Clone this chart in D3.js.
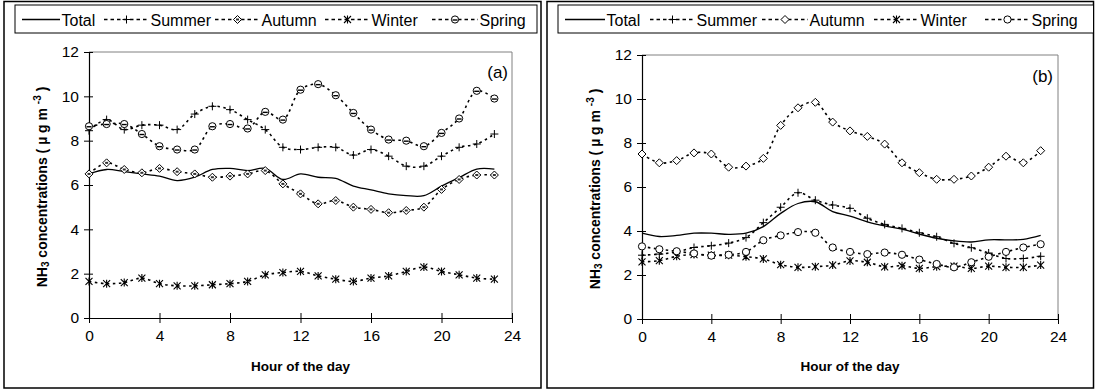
<!DOCTYPE html>
<html>
<head>
<meta charset="utf-8">
<script src="https://cdn.jsdelivr.net/npm/d3@7"></script>
<style>
  body { margin: 0; background: #fff; }
  svg { display: block; font-family: "Liberation Sans", Arial, sans-serif; }
</style>
</head>
<body>
<svg id="chart" width="1095" height="390"></svg>
<script>
const hours = [0, 1, 2, 3, 4, 5, 6, 7, 8, 9, 10, 11, 12, 13, 14, 15, 16, 17, 18, 19, 20, 21, 22, 23];
const seriesNames = ["Total", "Summer", "Autumn", "Winter", "Spring"];
const xTicks = [0, 4, 8, 12, 16, 20, 24];
const yTicks = [0, 2, 4, 6, 8, 10, 12];

// panel (a)
const totalA = [6.5, 6.7, 6.6, 6.5, 6.4, 6.2, 6.35, 6.7, 6.75, 6.65, 6.75, 6.25, 6.5, 6.35, 6.3, 5.95, 5.78, 5.6, 5.52, 5.52, 5.95, 6.33, 6.72, 6.72];
const summerA = [8.45, 8.95, 8.5, 8.7, 8.7, 8.5, 9.2, 9.55, 9.4, 8.95, 8.5, 7.7, 7.6, 7.7, 7.7, 7.35, 7.6, 7.3, 6.85, 6.85, 7.3, 7.7, 7.85, 8.3];
const autumnA = [6.5, 7.0, 6.7, 6.55, 6.75, 6.6, 6.5, 6.35, 6.4, 6.5, 6.65, 6.05, 5.6, 5.15, 5.3, 5.0, 4.9, 4.75, 4.85, 5.0, 5.8, 6.25, 6.45, 6.45];
const winterA = [1.65, 1.55, 1.6, 1.8, 1.55, 1.45, 1.45, 1.5, 1.55, 1.65, 1.95, 2.05, 2.1, 1.9, 1.75, 1.65, 1.8, 1.9, 2.1, 2.3, 2.1, 1.95, 1.8, 1.75];
const springA = [8.65, 8.75, 8.75, 8.3, 7.75, 7.6, 7.6, 8.65, 8.75, 8.55, 9.3, 8.95, 10.3, 10.55, 10.05, 9.25, 8.5, 8.05, 8.0, 7.75, 8.35, 9.0, 10.25, 9.9];

// panel (b)
const totalB = [3.9, 3.75, 3.8, 3.9, 3.9, 3.85, 3.9, 4.2, 4.8, 5.25, 5.33, 4.88, 4.68, 4.42, 4.23, 4.08, 3.86, 3.67, 3.55, 3.5, 3.6, 3.6, 3.62, 3.8];
const summerB = [2.9, 2.95, 3.05, 3.25, 3.33, 3.45, 3.7, 4.38, 5.08, 5.74, 5.4, 5.18, 5.03, 4.58, 4.3, 4.12, 3.92, 3.74, 3.44, 3.24, 3.0, 2.75, 2.75, 2.85];
const autumnB = [7.5, 7.1, 7.2, 7.55, 7.5, 6.9, 6.95, 7.3, 8.8, 9.6, 9.85, 8.95, 8.55, 8.3, 7.95, 7.1, 6.65, 6.35, 6.35, 6.5, 6.9, 7.4, 7.1, 7.65];
const winterB = [2.6, 2.65, 2.85, 2.93, 2.9, 2.9, 2.83, 2.73, 2.47, 2.35, 2.38, 2.45, 2.64, 2.58, 2.37, 2.42, 2.3, 2.38, 2.4, 2.3, 2.4, 2.35, 2.35, 2.45];
const springB = [3.3, 3.17, 3.08, 2.98, 2.88, 2.92, 3.05, 3.58, 3.8, 3.95, 3.92, 3.25, 3.05, 2.95, 3.02, 2.92, 2.7, 2.5, 2.35, 2.58, 2.83, 3.05, 3.25, 3.4];

const svg = d3.select("#chart");

// marker drawing, centred on 0,0
function marker(g, kind, filled) {
  if (kind === "plus") {
    g.append("path").attr("d", "M-4,0H4M0,-4V4").attr("stroke", "#000").attr("stroke-width", 1);
  } else if (kind === "diamond") {
    g.append("path").attr("d", "M0,-4L4,0L0,4L-4,0Z")
      .attr("fill", "#fff").attr("stroke", "#000").attr("stroke-width", 1);
    if (filled) g.append("rect").attr("x", -1.5).attr("y", -1).attr("width", 3).attr("height", 2).attr("fill", "#333");
  } else if (kind === "star") {
    g.append("path").attr("d", "M-3.5,-3.5L3.5,3.5M-3.5,3.5L3.5,-3.5M0,-4V4")
      .attr("stroke", "#000").attr("stroke-width", 1.1);
  } else if (kind === "circle") {
    g.append("circle").attr("r", 3.6).attr("fill", "#fff").attr("stroke", "#000").attr("stroke-width", 1);
    if (filled) g.append("path").attr("d", "M-2.5,0.5H2.5").attr("stroke", "#000").attr("stroke-width", 1.4);
  }
}

function drawPanel(cfg) {
  const { frame, legend, plot, tag, tagPos, data, filled } = cfg;

  // outer frame
  svg.append("rect")
    .attr("x", frame[0]).attr("y", frame[1])
    .attr("width", frame[2] - frame[0]).attr("height", frame[3] - frame[1])
    .attr("fill", "none").attr("stroke", "#000").attr("stroke-width", 1.5);

  // legend
  const lg = svg.append("g");
  lg.append("rect")
    .attr("x", legend.x0).attr("y", 5)
    .attr("width", legend.x1 - legend.x0).attr("height", 28)
    .attr("fill", "#fff").attr("stroke", "#000").attr("stroke-width", 1);
  const kinds = [null, "plus", "diamond", "star", "circle"];
  seriesNames.forEach((name, i) => {
    const sx = legend.items[i];
    const ly = 19.5;
    const it = lg.append("g");
    it.append("line")
      .attr("x1", sx[0]).attr("x2", sx[1]).attr("y1", ly).attr("y2", ly)
      .attr("stroke", "#000").attr("stroke-width", 1.3)
      .attr("stroke-dasharray", i === 0 ? null : "3.5,3");
    if (kinds[i]) {
      marker(it.append("g").attr("transform", `translate(${(sx[0] + sx[1]) / 2},${ly})`), kinds[i], filled);
    }
    it.append("text")
      .attr("x", sx[1] + 1.5).attr("y", 25.5)
      .attr("font-size", "16px").attr("fill", "#000")
      .text(name);
  });

  const x = d3.scaleLinear().domain([0, 24]).range([plot.x0, plot.x1]);
  const y = d3.scaleLinear().domain([0, 12]).range([plot.y1, plot.y0]);

  // plot area border (grey top/right)
  svg.append("path")
    .attr("d", `M${plot.x0},${plot.y0}H${plot.x1}V${plot.y1}`)
    .attr("fill", "none").attr("stroke", "#808080").attr("stroke-width", 1);

  // axes
  svg.append("g")
    .attr("transform", `translate(${plot.x0},0)`)
    .call(d3.axisLeft(y).tickValues(yTicks).tickSize(4).tickSizeOuter(0).tickPadding(6))
    .call((g) => g.select(".domain").attr("stroke", "#000").attr("stroke-width", 1.2))
    .call((g) => g.selectAll(".tick line").attr("x2", 4).attr("x1", -5).attr("stroke", "#000"))
    .call((g) => g.selectAll(".tick text").attr("font-size", "15.5px").attr("fill", "#000")
      .attr("font-family", "Liberation Sans, Arial, sans-serif").attr("x", -10));

  svg.append("g")
    .attr("transform", `translate(0,${plot.y1})`)
    .call(d3.axisBottom(x).tickValues(xTicks).tickSize(4).tickSizeOuter(0).tickPadding(8))
    .call((g) => g.select(".domain").attr("stroke", "#000").attr("stroke-width", 1.2))
    .call((g) => g.selectAll(".tick line").attr("y1", -5).attr("y2", 5).attr("stroke", "#000"))
    .call((g) => g.selectAll(".tick text").attr("font-size", "15.5px").attr("fill", "#000")
      .attr("font-family", "Liberation Sans, Arial, sans-serif").attr("y", 12));

  // axis titles
  svg.append("text")
    .attr("x", (plot.x0 + plot.x1) / 2).attr("y", 371)
    .attr("text-anchor", "middle").attr("font-size", "13.5px").attr("font-weight", "bold")
    .text("Hour of the day");

  const yt = svg.append("text")
    .attr("transform", `translate(${plot.x0 - 42},${(plot.y0 + plot.y1) / 2 + 2}) rotate(-90)`)
    .attr("text-anchor", "middle").attr("font-size", "14px").attr("font-weight", "bold");
  yt.append("tspan").text("NH");
  yt.append("tspan").attr("font-size", "10px").attr("dy", 2).text("3");
  yt.append("tspan").attr("dy", -2).text(" concentrations ( \u00b5 g m ");
  yt.append("tspan").attr("font-size", "10px").attr("dy", -6).text("-3");
  yt.append("tspan").attr("dy", 6).text(" )");

  svg.append("text")
    .attr("x", tagPos[0]).attr("y", tagPos[1])
    .attr("text-anchor", "end")
    .attr("font-size", "17px").attr("fill", "#000")
    .text(tag);

  // series
  const line = d3.line()
    .x((d, i) => x(hours[i]))
    .y((d) => y(d))
    .curve(d3.curveCatmullRom.alpha(0.5));

  data.forEach((vals, si) => {
    const sg = svg.append("g");
    sg.append("path")
      .attr("d", line(vals))
      .attr("fill", "none").attr("stroke", "#000")
      .attr("stroke-width", si === 0 ? 1.3 : 1.6)
      .attr("stroke-dasharray", si === 0 ? null : "2.5,3.5");
    if (kinds[si]) {
      vals.forEach((v, i) => {
        marker(sg.append("g").attr("transform", `translate(${x(hours[i])},${y(v)})`), kinds[si], filled);
      });
    }
  });
}

drawPanel({
  frame: [4, 1.5, 541, 388],
  legend: { x0: 15, x1: 537, items: [[22, 60], [104, 149], [215, 260], [325, 370], [432, 478]] },
  plot: { x0: 89, x1: 512, y0: 52, y1: 318 },
  tag: "(a)", tagPos: [508, 78],
  data: [totalA, summerA, autumnA, winterA, springA],
  filled: true,
});

drawPanel({
  frame: [547, 1.5, 1093.5, 388],
  legend: { x0: 558, x1: 1093.5, items: [[565, 605], [650, 695], [762, 808], [874, 919], [985, 1030]] },
  plot: { x0: 642, x1: 1058, y0: 55, y1: 319 },
  tag: "(b)", tagPos: [1053, 82],
  data: [totalB, summerB, autumnB, winterB, springB],
  filled: false,
});
</script>
</body>
</html>
